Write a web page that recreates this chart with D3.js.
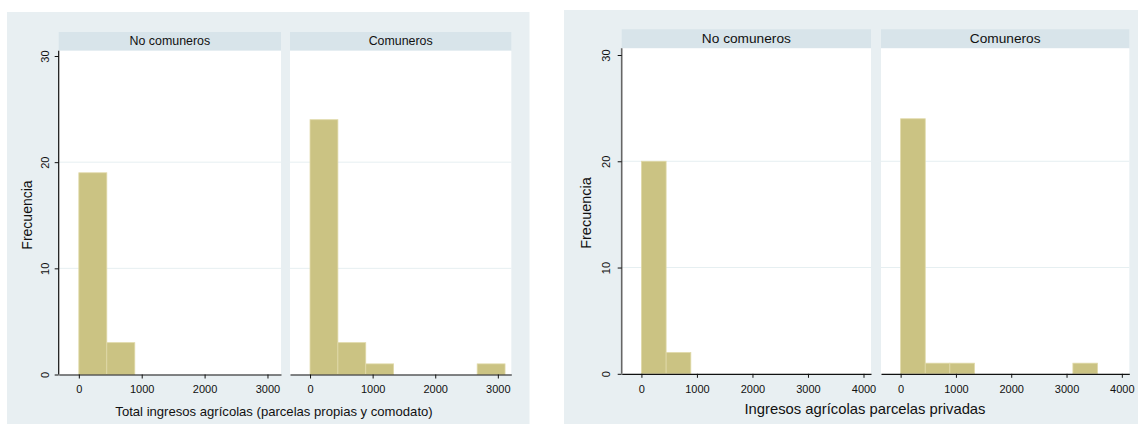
<!DOCTYPE html>
<html>
<head>
<meta charset="utf-8">
<script src="https://cdn.jsdelivr.net/npm/d3@7"></script>
<style>
  html, body { margin: 0; padding: 0; background: #ffffff; }
  svg { display: block; font-family: "Liberation Sans", Arial, Helvetica, sans-serif; }
</style>
</head>
<body>
<svg id="chart" width="1138" height="424"></svg>
<script>
// ---- data ----
const panelNames = ["No comuneros", "Comuneros"];
const yTickValues = [0, 10, 20, 30];

// Total ingresos agrícolas (parcelas propias y comodato)
const totalBinWidth = 445;
const totalNoComuneros = [19, 3];
const totalComuneros = [24, 3, 1, 0, 0, 0, 1];
const totalTicks = [0, 1000, 2000, 3000];

// Ingresos agrícolas parcelas privadas
const privBinWidth = 445;
const privNoComuneros = [20, 2];
const privComuneros = [24, 1, 1, 0, 0, 0, 0, 1];
const privTicks = [0, 1000, 2000, 3000, 4000];

// ---- styles ----
const bgColor = "#e8eff2";
const stripColor = "#d8e4ea";
const gridColor = "#e6eff1";
const barFill = "#cbc383";
const barStroke = "#e0d9a8";

const svg = d3.select("#chart");

function drawFigure(cfg) {
  const g = svg.append("g");

  // outer graph region
  g.append("rect")
    .attr("x", cfg.bg[0]).attr("y", cfg.bg[1])
    .attr("width", cfg.bg[2]).attr("height", cfg.bg[3])
    .attr("fill", bgColor);

  const y = d3.scaleLinear().domain([0, 30]).range([cfg.y0, cfg.y30]);

  cfg.panels.forEach((p, i) => {
    const x = d3.scaleLinear().domain(cfg.xDomain).range(p.range);
    const [x0, x1] = p.range;

    // subtitle strip
    g.append("rect")
      .attr("x", x0).attr("y", cfg.stripTop)
      .attr("width", x1 - x0).attr("height", cfg.stripBottom - cfg.stripTop)
      .attr("fill", stripColor);
    g.append("text")
      .attr("x", (x0 + x1) / 2)
      .attr("y", (cfg.stripTop + cfg.stripBottom) / 2)
      .attr("text-anchor", "middle")
      .attr("dominant-baseline", "central")
      .attr("font-size", cfg.stripFont)
      .attr("fill", "#111")
      .text(panelNames[i]);

    // plot region
    g.append("rect")
      .attr("x", x0).attr("y", cfg.stripBottom)
      .attr("width", x1 - x0).attr("height", cfg.y0 - cfg.stripBottom)
      .attr("fill", "#ffffff");

    // horizontal grid
    g.selectAll(null)
      .data(yTickValues.filter(v => v > 0 && v < 30))
      .enter().append("line")
      .attr("x1", x0).attr("x2", x1)
      .attr("y1", d => y(d)).attr("y2", d => y(d))
      .attr("stroke", gridColor).attr("stroke-width", 1);

    // histogram bars
    const bins = p.counts.map((c, k) => ({ lo: k * cfg.binWidth, hi: (k + 1) * cfg.binWidth, c }))
      .filter(b => b.c > 0);
    g.selectAll(null)
      .data(bins)
      .enter().append("rect")
      .attr("x", d => x(d.lo))
      .attr("y", d => y(d.c))
      .attr("width", d => x(d.hi) - x(d.lo))
      .attr("height", d => y(0) - y(d.c))
      .attr("fill", barFill)
      .attr("stroke", barStroke)
      .attr("stroke-width", 0.8);

    // x axis
    const xa = g.append("g").attr("transform", `translate(0,${cfg.y0})`)
      .call(d3.axisBottom(x).tickValues(cfg.xTicks).tickSize(4).tickSizeOuter(0).tickFormat(d3.format("d")));
    xa.select(".domain").attr("stroke", "#111").attr("stroke-width", 1.2);
    xa.selectAll(".tick line").attr("stroke", "#111");
    xa.selectAll(".tick text")
      .attr("y", cfg.xLabelOffset).attr("dy", null)
      .attr("dominant-baseline", "central")
      .attr("font-size", 11).attr("fill", "#111")
      .attr("font-family", "Liberation Sans, Arial, sans-serif");

    // y axis on the first panel only
    if (i === 0) {
      const ya = g.append("g").attr("transform", `translate(${x0},0)`)
        .call(d3.axisLeft(y).tickValues(yTickValues).tickSize(4).tickSizeOuter(0));
      ya.select(".domain").attr("stroke", cfg.yAxisColor).attr("stroke-width", cfg.yAxisWidth)
        .attr("d", `M0,${cfg.y0}V${cfg.stripBottom}`);
      ya.selectAll(".tick line").attr("stroke", "#111");
      ya.selectAll(".tick text")
        .attr("x", null).attr("dy", null)
        .attr("transform", `translate(${-cfg.yLabelOffset},0) rotate(-90)`)
        .attr("text-anchor", "middle")
        .attr("dominant-baseline", "central")
        .attr("font-size", 11).attr("fill", "#111")
        .attr("font-family", "Liberation Sans, Arial, sans-serif");

      g.append("text")
        .attr("transform", `translate(${cfg.yTitleX},${cfg.yTitleY}) rotate(-90)`)
        .attr("text-anchor", "middle")
        .attr("dominant-baseline", "central")
        .attr("font-size", cfg.yTitleFont)
        .attr("fill", "#111")
        .text("Frecuencia");
    }
  });

  // x axis title
  g.append("text")
    .attr("x", cfg.xTitleX).attr("y", cfg.xTitleY)
    .attr("text-anchor", "middle")
    .attr("dominant-baseline", "central")
    .attr("font-size", cfg.xTitleFont)
    .attr("fill", "#111")
    .text(cfg.xTitle);
}

drawFigure({
  bg: [7, 12, 522.5, 412],
  stripTop: 32, stripBottom: 50.7,
  stripFont: 12.4,
  y0: 374.5, y30: 56,
  xDomain: [-320, 3215],
  xTicks: totalTicks,
  binWidth: totalBinWidth,
  panels: [
    { range: [58.7, 281], counts: totalNoComuneros },
    { range: [290, 511.3], counts: totalComuneros }
  ],
  xLabelOffset: 14.3,
  yLabelOffset: 13.5,
  yAxisColor: "#111", yAxisWidth: 1.2,
  yTitleX: 26.5, yTitleY: 215, yTitleFont: 14,
  xTitle: "Total ingresos agrícolas (parcelas propias y comodato)",
  xTitleX: 274, xTitleY: 411, xTitleFont: 13.1
});

drawFigure({
  bg: [564, 10, 574, 414],
  stripTop: 29.3, stripBottom: 48.3,
  stripFont: 13.7,
  y0: 373.8, y30: 55,
  xDomain: [-355, 4135],
  xTicks: privTicks,
  binWidth: privBinWidth,
  panels: [
    { range: [621.7, 871], counts: privNoComuneros },
    { range: [881, 1129.3], counts: privComuneros }
  ],
  xLabelOffset: 15,
  yLabelOffset: 15.5,
  yAxisColor: "#666", yAxisWidth: 1.6,
  yTitleX: 586, yTitleY: 213, yTitleFont: 14.5,
  xTitle: "Ingresos agrícolas parcelas privadas",
  xTitleX: 865, xTitleY: 408.7, xTitleFont: 14.8
});
</script>
</body>
</html>
